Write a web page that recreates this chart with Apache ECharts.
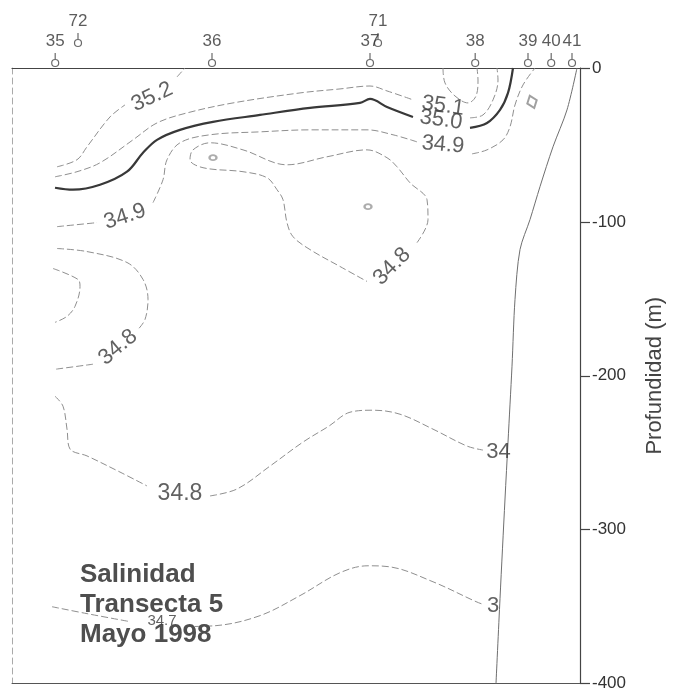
<!DOCTYPE html>
<html><head><meta charset="utf-8">
<script src="https://cdn.jsdelivr.net/npm/echarts@6/dist/echarts.min.js"></script>
<style>html,body{margin:0;padding:0;background:#fff}#c{width:674px;height:692px}</style>
</head><body><div id="c"></div>
<script>
// Stations (distance along transect, km)
const stationNames = ['35','72','36','37','71','38','39','40','41'];
const stationDist  = [10.8, 16.5, 50, 89.5, 91.5, 115.8, 129, 134.8, 140];
const raisedStations = ['72','71'];
// Depth axis tick labels
const depthTicks = ['0','-100','-200','-300','-400'];

// Contours: [distance km, depth m]
const s352a = [[11.25,64.2],[16.25,59.6],[18.75,51.2],[24.5,31.8],[28.25,24.0]];
const s352b = [[41.25,5.8],[43.25,0]];
const s352u = [[107.75,0],[108.25,9.7],[110.75,18.2],[114,22.7],[116,18.2],[116.5,7.8],[116.25,0]];
const s351a = [[10.75,70.7],[16.25,67.4],[22,61.6],[30.25,46.7],[36.25,35.7],[43.75,29.2],[55.25,22.7],[72,16.2],[82,13.6],[89.5,11.7],[93.75,14.9],[100.25,20.7]];
const s351b = [[114.5,32.4],[117.75,30.5],[120.25,20.7],[121.5,7.8],[121.25,0]];
const s350a = [[10.75,77.8],[15.25,79.1],[22,75.9],[28.75,67.4],[32.75,55.1],[36.25,46.7],[42,40.2],[50.25,35.0],[62,30.5],[74.5,25.9],[87,22.7],[89.5,20.1],[93.75,25.3],[100.25,31.8]];
const s350b = [[114.5,38.9],[118.75,35.7],[122,27.2],[124,16.2],[125.25,0]];
const s349a = [[11.25,103.1],[21.25,100.5]];
const s349b = [[35.25,87.5],[37.75,72.6],[38.75,59.6],[42,48.6],[49.5,43.4],[62,41.5],[74.5,40.2],[88.75,40.2],[95.25,43.4],[101.25,48.0]];
const s349c = [[115,55.8],[118.75,53.2],[122.75,46.7],[124.5,38.2],[125.75,24.0],[127.75,11.0],[130.75,0]];
const s348loop = [[101.25,113.5],[104,98.5],[103.75,85.6],[99.5,74.6],[96.25,64.2],[93.75,58.3],[88.75,53.2],[78.75,57.7],[68.75,62.9],[57.75,53.2],[49.5,48.6],[45.25,53.2],[44.5,59.6],[47.75,64.8],[57.75,67.4],[63.75,71.3],[66.25,79.1],[67.75,85.6],[68.75,100.5],[70.25,109.6],[74.5,118.0],[82,129.0],[88.75,138.7]];
const s348leftA = [[11.25,117.3],[18.75,119.3],[28.75,126.4],[32.75,137.4],[34,150.4],[33.25,163.4],[31.5,169.9]];
const s348leftB = [[20.25,192.5],[10.75,195.8]];
const s348inner = [[10.25,130.3],[16.5,137.4],[17,142.0],[15.75,154.9],[13.75,161.4],[10.75,165.3]];
const s348lowA = [[10.75,213.3],[12.75,219.8],[13.75,234.7],[14.5,247.6],[18.75,252.1],[27,262.6],[33.75,271.6]];
const s348lowB = [[49.5,278.1],[56.25,273.6],[64.5,258.7],[72.75,243.1],[79.25,232.7],[84.5,223.7],[90.25,222.4],[97,225.0],[105.25,234.7],[113.75,245.7],[117.75,248.3]];
const s347a = [[10,350.1],[18.75,354.6],[29.5,359.8]];
const s347b = [[43.25,363.0],[51,362.4],[62,355.9],[72,342.9],[82,328.0],[89,323.5],[94.5,324.2],[105.25,333.9],[116,346.8],[118,348.8]];
const slopeLine = [[141.25,0],[138.75,27.2],[135.25,51.2],[132,77.1],[129.5,98.5],[127,118.0],[125.75,150.4],[125,193.8],[124,243.1],[123.25,280.1],[122,344.9],[121,400]];
const tinyLoops = [[50.25,58.3],[89,90.1]];
const diamondMark = [[130,22]];

// Contour labels
const labelText = ['35.2','35.1','35.0','34.9','34.9','34.8','34.8','34.8','34','3','34.7'];
const labelPos  = [[35,18.8],[107.75,24.6],[107.25,33.7],[107.75,49.9],[28.25,96.6],[95,129.0],[26.5,181.5],[42,276.8],[121.6,249.6],[120.25,349.4],[37.5,359.5]];
const labelRot  = [25,-8,-8,-5,18,45,40,0,0,0,0];
const labelSize = [22,22,22,22,22,22,22,23,22,22,15];

const thin = {color:'#8f8f8f', width:1, type:[7,3]};
const bold = {color:'#383838', width:2.2, type:'solid'};
function seg(pts, style, smooth){
  return {type:'line', data:pts, smooth: smooth===undefined?0.35:smooth, symbol:'none', lineStyle:style, silent:true, z:2, clip:false};
}
const thinSegs = [s352a,s352b,s352u,s351a,s351b,s349a,s349b,s349c,s348loop,s348leftA,s348leftB,s348inner,s348lowA,s348lowB,s347a,s347b];
const boldSegs = [s350a,s350b];

const series = [];
thinSegs.forEach(p=>series.push(seg(p,thin)));
boldSegs.forEach(p=>series.push(seg(p,bold)));
series.push(seg(slopeLine,{color:'#6f6f6f',width:1,type:'solid'},0.3));
series.push({type:'scatter', data:tinyLoops, symbol:'emptyCircle', symbolSize:[7,5], itemStyle:{color:'#999',borderWidth:1}, silent:true});
series.push({type:'scatter', data:diamondMark, symbol:'emptyDiamond', symbolSize:[10,13], symbolRotate:20, itemStyle:{color:'#888',borderWidth:1}, silent:true});
// station stems
series.push({type:'scatter', clip:false, silent:true, z:5,
  data: stationNames.map((n,i)=>({name:n, value:[stationDist[i],0], symbolOffset:[0, raisedStations.includes(n)?-32:-12]})),
  symbol:'rect', symbolSize:[1.2,6], itemStyle:{color:'#444'}});
// station circles + labels
series.push({type:'scatter', clip:false, silent:true, z:6,
  data: stationNames.map((n,i)=>({name:n, value:[stationDist[i],0], symbolOffset:[0, raisedStations.includes(n)?-25:-5]})),
  symbol:'circle', symbolSize:7, itemStyle:{color:'#fff', borderColor:'#444', borderWidth:1.2},
  label:{show:true, position:'top', distance:9, formatter:'{b}', fontSize:17, color:'#333', fontFamily:'Liberation Sans'}});
// contour labels
series.push({type:'scatter', silent:true, z:8, symbolSize:1, itemStyle:{color:'rgba(0,0,0,0)'},
  data: labelText.map((t,i)=>({name:t, value:labelPos[i], label:{rotate:labelRot[i], fontSize:labelSize[i]}})),
  label:{show:true, position:'inside', formatter:'{b}', color:'#3a3a3a', fontFamily:'Liberation Sans'}});

const option = {
  animation:false,
  backgroundColor:'#fff',
  title:{text:'Salinidad\nTransecta 5\nMayo 1998', left:80, top:560, padding:0,
    textStyle:{fontSize:26, fontWeight:'bold', color:'#4e4e4e', lineHeight:30, fontFamily:'Liberation Sans'}},
  grid:{left:12, right:94, top:68, bottom:7},
  xAxis:[
    {type:'value', min:0, max:142, position:'bottom', axisLine:{show:true, onZero:false, lineStyle:{color:'#555', width:1}}, axisTick:{show:false}, axisLabel:{show:false}, splitLine:{show:false}},
    {type:'value', min:0, max:142, position:'top', axisLine:{show:true, onZero:false, lineStyle:{color:'#444', width:1.2}}, axisTick:{show:false}, axisLabel:{show:false}, splitLine:{show:false}}
  ],
  yAxis:[
    {type:'value', inverse:true, min:0, max:400, interval:100, position:'right',
     axisLine:{show:true, onZero:false, lineStyle:{color:'#444', width:1.2}},
     axisTick:{show:true, length:10, lineStyle:{color:'#444', width:1.2}},
     axisLabel:{show:true, margin:12, fontSize:17, color:'#333', fontFamily:'Liberation Sans', showMinLabel:true, showMaxLabel:true,
       formatter:(v)=>depthTicks[Math.round(v/100)]},
     splitLine:{show:false},
     name:'Profundidad (m)', nameLocation:'middle', nameRotate:90, nameGap:64,
     nameTextStyle:{fontSize:22, color:'#444', fontFamily:'Liberation Sans'}},
    {type:'value', inverse:true, min:0, max:400, position:'left',
     axisLine:{show:true, onZero:false, lineStyle:{color:'#aaa', width:1, type:[6,4]}}, axisTick:{show:false}, axisLabel:{show:false}, splitLine:{show:false}}
  ],
  series: series
};
const chart = echarts.init(document.getElementById('c'), null, {renderer:'canvas'});
chart.setOption(option);
</script></body></html>
